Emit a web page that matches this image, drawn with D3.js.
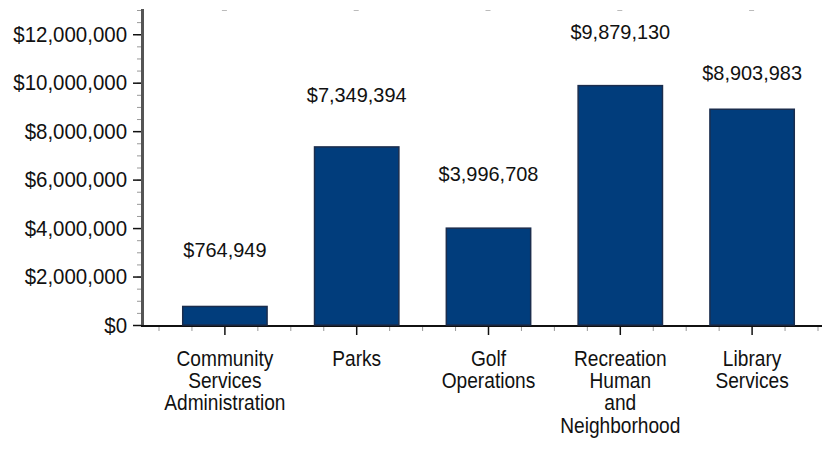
<!DOCTYPE html>
<html>
<head>
<meta charset="utf-8">
<script src="https://cdn.jsdelivr.net/npm/d3@7"></script>
<style>
  html, body { margin: 0; padding: 0; background: #fff; }
  svg { display: block; }
  text { font-family: "Liberation Sans", Arial, sans-serif; fill: #111; }
</style>
</head>
<body>
<svg id="chart" width="823" height="472"></svg>
<script>
// Departmental budget figures
const categories = [
  ["Community", "Services", "Administration"],
  ["Parks"],
  ["Golf", "Operations"],
  ["Recreation", "Human", "and", "Neighborhood"],
  ["Library", "Services"]
];
const values = [764949, 7349394, 3996708, 9879130, 8903983];
const yTicks = [0, 2000000, 4000000, 6000000, 8000000, 10000000, 12000000];

const svg = d3.select("#chart");

// Narrow type: horizontal squeeze applied to regular sans glyphs
const TICK_SX = 0.93, VALUE_SX = 0.95, CAT_SX = 0.87;

const x = d3.scaleBand()
  .domain(d3.range(values.length))
  .range([159, 818])
  .paddingInner(0.36)
  .paddingOuter(0.18);

const y = d3.scaleLinear().domain([0, 13000000]).range([325, 10]);

const money = d3.format("$,");
const cx = i => x(i) + x.bandwidth() / 2;

// Minor y ticks every 500,000
const minorY = d3.range(0, 13000001, 500000);
svg.append("g").selectAll("line").data(minorY).join("line")
  .attr("x1", 137).attr("x2", 142)
  .attr("y1", d => y(d) + 0.5).attr("y2", d => y(d) + 0.5)
  .attr("stroke", "#999").attr("stroke-width", 1);

// Y axis
const yAxis = svg.append("g").attr("transform", "translate(142,0)")
  .call(d3.axisLeft(y).tickValues(yTicks).tickFormat(money).tickSize(9).tickPadding(6));
yAxis.select(".domain").remove();
yAxis.selectAll(".tick line").attr("stroke", "#111").attr("stroke-width", 1.5);
yAxis.selectAll(".tick text")
  .attr("font-size", 22)
  .attr("fill", "#111")
  .attr("x", -15 / TICK_SX)
  .attr("transform", `scale(${TICK_SX},1)`);

svg.append("line")
  .attr("x1", 142.5).attr("x2", 142.5).attr("y1", 9).attr("y2", 327)
  .attr("stroke", "#555").attr("stroke-width", 3);

// X axis ticks: majors at centres, minors at quarter steps
const step = x.step();
const xMinor = [];
values.forEach((v, i) => {
  [-0.5, -0.25, 0.25].forEach(f => xMinor.push(cx(i) + f * step));
});
xMinor.push(cx(values.length - 1) + 0.5 * step);

svg.append("g").selectAll("line").data(xMinor).join("line")
  .attr("x1", d => d).attr("x2", d => d)
  .attr("y1", 326).attr("y2", 331)
  .attr("stroke", "#999").attr("stroke-width", 1);

svg.append("g").selectAll("line").data(values).join("line")
  .attr("x1", (d, i) => cx(i))
  .attr("x2", (d, i) => cx(i))
  .attr("y1", 326).attr("y2", 335)
  .attr("stroke", "#111").attr("stroke-width", 1.5);

// Faint markers along the top edge
svg.append("g").selectAll("line").data(values).join("line")
  .attr("x1", (d, i) => cx(i) - 3)
  .attr("x2", (d, i) => cx(i) + 2)
  .attr("y1", 10.5).attr("y2", 10.5)
  .attr("stroke", "#bbb").attr("stroke-width", 1);

svg.append("line")
  .attr("x1", 141).attr("x2", 822).attr("y1", 326).attr("y2", 326)
  .attr("stroke", "#111").attr("stroke-width", 2);

// Bars
svg.append("g").selectAll("rect").data(values).join("rect")
  .attr("x", (d, i) => x(i))
  .attr("y", d => y(d))
  .attr("width", x.bandwidth())
  .attr("height", d => y(0) - y(d))
  .attr("fill", "#013d7c")
  .attr("stroke", "#1b2d4d")
  .attr("stroke-width", 1.5);

// Value labels
const labelLift = [57, 52, 55, 54, 37];
svg.append("g").selectAll("text").data(values).join("text")
  .attr("transform", (d, i) => `translate(${cx(i)},${y(d) - labelLift[i]}) scale(${VALUE_SX},1)`)
  .attr("text-anchor", "middle")
  .attr("dy", "0.35em")
  .attr("font-size", 21)
  .text(d => money(d));

// Category labels
const cat = svg.append("g").selectAll("text").data(categories).join("text")
  .attr("transform", (d, i) => `translate(${cx(i)},358) scale(${CAT_SX},1)`)
  .attr("text-anchor", "middle")
  .attr("font-size", 22);
cat.selectAll("tspan").data(d => d).join("tspan")
  .attr("x", 0)
  .attr("dy", (d, j) => j === 0 ? "0.35em" : 22.3)
  .text(d => d);
</script>
</body>
</html>
